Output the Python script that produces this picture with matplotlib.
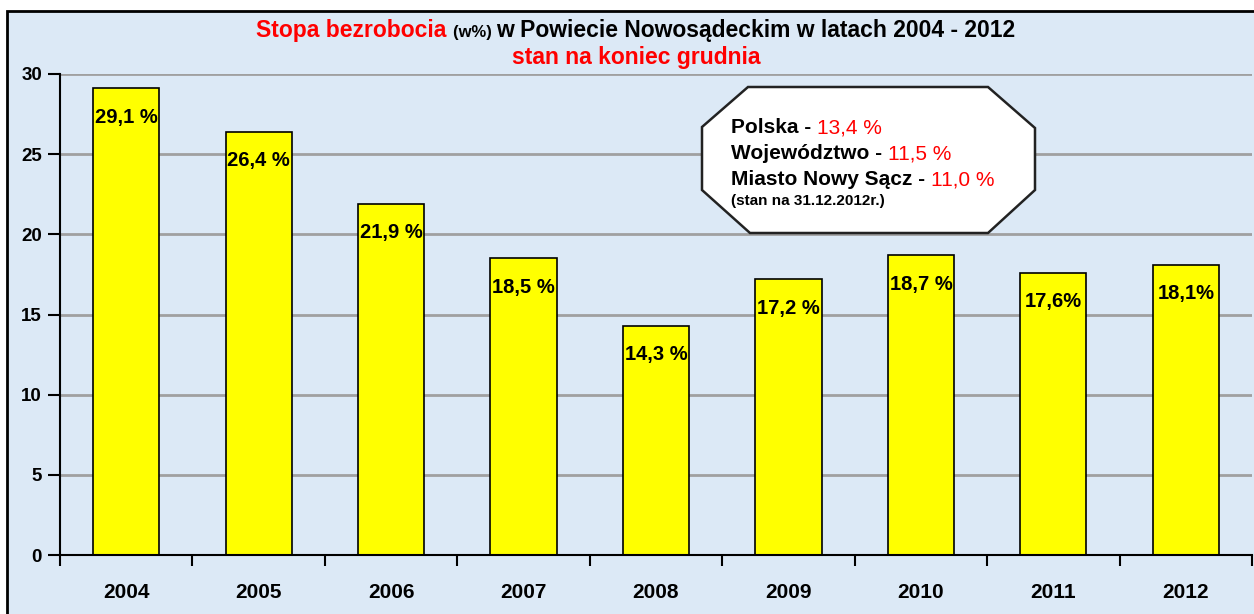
import matplotlib
matplotlib.use("Agg")
import matplotlib.pyplot as plt
from matplotlib.patches import Polygon, Rectangle
import numpy as np

years = ["2004", "2005", "2006", "2007", "2008", "2009", "2010", "2011", "2012"]
rates = [29.1, 26.4, 21.9, 18.5, 14.3, 17.2, 18.7, 17.6, 18.1]
bar_labels = ["29,1 %", "26,4 %", "21,9 %", "18,5 %", "14,3 %", "17,2 %", "18,7 %", "17,6%", "18,1%"]
yticks = [0, 5, 10, 15, 20, 25, 30]

title_parts = [("Stopa bezrobocia ", "red", 16.5, "bold"),
               ("(w%) ", "black", 12, "bold"),
               ("w Powiecie Nowosądeckim w latach 2004 - 2012", "black", 16.5, "bold")]
subtitle = "stan na koniec grudnia"

box_lines = [
    [("Polska - ", "black", "bold"), ("13,4 %", "red", "normal")],
    [("Województwo - ", "black", "bold"), ("11,5 %", "red", "normal")],
    [("Miasto Nowy Sącz - ", "black", "bold"), ("11,0 %", "red", "normal")],
]
box_note = "(stan na 31.12.2012r.)"

plt.rcParams['font.family'] = ['Liberation Sans', 'DejaVu Sans']

W, H = 1254, 614
fig = plt.figure(figsize=(W / 100, H / 100), dpi=100)
fig.patch.set_facecolor("white")
bg = "#dce9f6"

def fx(px):
    return px / W

def fy(py):
    return 1 - py / H

# background frame
fig.patches.append(Rectangle((fx(7), -0.01), 1 - fx(7) + 0.01, fy(11) + 0.01, transform=fig.transFigure,
                             facecolor=bg, edgecolor="black", linewidth=2, zorder=-5))

ax = fig.add_axes([fx(60), fy(555), fx(1252) - fx(60), fy(74) - fy(555)])
ax.set_zorder(1)
ax.set_facecolor("none")
x = np.arange(len(years))
ax.bar(x, rates, width=0.5, color="#ffff00", edgecolor="black", linewidth=1.2, zorder=3)
for xi, v, lab in zip(x, rates, bar_labels):
    ax.text(xi, v - 1.8, lab, ha="center", va="center", fontsize=14.5,
            fontweight="bold", color="black", zorder=4)

ax.set_xlim(-0.5, len(years) - 0.5)
ax.set_ylim(0, 30)
ax.set_yticks(yticks)
ax.set_yticklabels([str(t) for t in yticks], fontsize=13.5, fontweight="bold")
ax.set_xticks(x)
ax.set_xticklabels(years, fontsize=15, fontweight="bold")
ax.tick_params(axis="x", which="major", length=0, pad=20)
ax.set_xticks(np.arange(-0.5, len(years)), minor=True)
ax.tick_params(axis="x", which="minor", length=8, width=1.5, direction="out")
ax.tick_params(axis="y", length=9, width=1.5, direction="out", pad=4)
ax.yaxis.grid(True, color="#a0a0a0", linewidth=2, zorder=1)
ax.set_axisbelow(True)
for s in ["top", "right"]:
    ax.spines[s].set_visible(False)
for s in ["left", "bottom"]:
    ax.spines[s].set_linewidth(1.5)
    ax.spines[s].set_zorder(5)

# octagon box
oct_px = [(748, 87), (988, 87), (1035, 128), (1035, 190), (988, 233), (750, 233), (702, 190), (702, 127)]
fig.patches.append(Polygon([(fx(a), fy(b)) for a, b in oct_px], closed=True, transform=fig.transFigure,
                           facecolor="white", edgecolor="#222222", linewidth=1.8, zorder=10))

fig.canvas.draw()
renderer = fig.canvas.get_renderer()

def draw_runs(runs, x0_px, y_px, ha="left"):
    texts = []
    widths = []
    for txt, col, fs, fw in runs:
        t = fig.text(0, fy(y_px), txt, color=col, fontsize=fs, fontweight=fw, va="baseline", zorder=12)
        bb = t.get_window_extent(renderer=renderer)
        texts.append(t)
        widths.append(bb.width)
    total = sum(widths)
    start = x0_px - total / 2 if ha == "center" else x0_px
    cur = start
    for t, w in zip(texts, widths):
        t.set_x(fx(cur))
        cur += w

draw_runs(title_parts, 636, 37, ha="center")
fig.text(fx(636), fy(64), subtitle, color="red", fontsize=16.5, fontweight="bold",
         ha="center", va="baseline")

for i, line in enumerate(box_lines):
    draw_runs([(t, c, 15, w) for t, c, w in line], 731, 133 + 26 * i)
fig.text(fx(731), fy(205), box_note, fontsize=11, fontweight="bold", color="black",
         va="baseline", zorder=12)

fig.savefig("out.png", dpi=100, facecolor="white")
